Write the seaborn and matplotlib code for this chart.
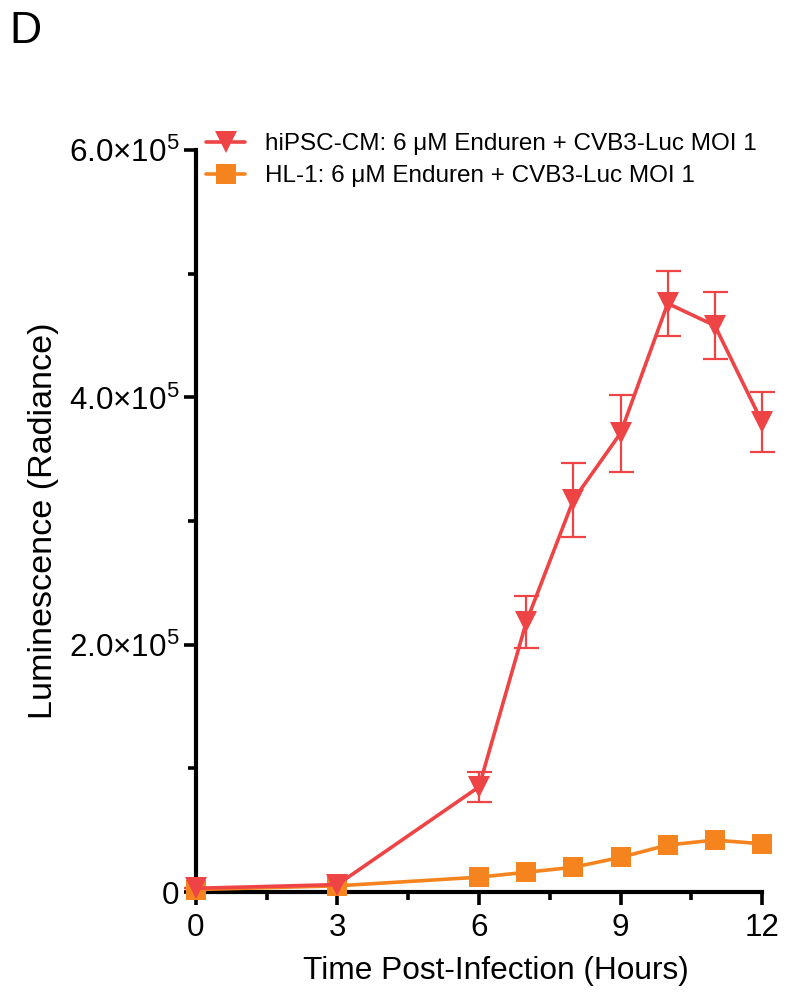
import matplotlib
matplotlib.use("Agg")
import matplotlib.pyplot as plt
import matplotlib.ticker as ticker
import seaborn as sns
import pandas as pd

# time points (hours)
hours = [0, 3, 6, 7, 8, 9, 10, 11, 12]
# hiPSC-CM luminescence and SEM
ipsc_mean = [3000, 6000, 85000, 218000, 317000, 371000, 476000, 458000, 380000]
ipsc_err = [0, 0, 12000, 21000, 30000, 31000, 26000, 27000, 24000]
# HL-1 luminescence
hl1_mean = [2000, 5000, 12000, 16000, 20000, 28000, 38000, 42000, 39000]

lab_ipsc = "hiPSC-CM: 6 μM Enduren + CVB3-Luc MOI 1"
lab_hl1 = "HL-1: 6 μM Enduren + CVB3-Luc MOI 1"
red = "#EE4446"
orange = "#F5841F"

sns.set_style("ticks")
plt.rcParams['font.family'] = ['Liberation Sans', 'DejaVu Sans']
plt.rcParams['mathtext.fontset'] = 'custom'
plt.rcParams['mathtext.rm'] = 'Liberation Sans'
plt.rcParams['mathtext.it'] = 'Liberation Sans'
for k in ['text.color', 'axes.labelcolor', 'xtick.color', 'ytick.color', 'axes.edgecolor']:
    plt.rcParams[k] = 'black'

df = pd.concat([
    pd.DataFrame({'Hours': hours, 'Lum': hl1_mean, 'Cell': lab_hl1}),
    pd.DataFrame({'Hours': hours, 'Lum': ipsc_mean, 'Cell': lab_ipsc}),
])

fig = plt.figure(figsize=(7.93, 9.94), dpi=100)
ax = fig.add_axes([0.247, 0.1026, 0.714, 0.7464])

sns.lineplot(data=df, x='Hours', y='Lum', hue='Cell', style='Cell',
             palette={lab_hl1: orange, lab_ipsc: red},
             markers={lab_hl1: 's', lab_ipsc: 'v'}, dashes=False,
             markersize=14, markeredgewidth=0, linewidth=2.6,
             ax=ax, legend=False, clip_on=False, zorder=3)
for ln in ax.lines:
    if ln.get_marker() == 'v':
        ln.set_markersize(16)
        ln.set_zorder(4)

ax.errorbar(hours, ipsc_mean, yerr=ipsc_err, fmt='none', ecolor=red,
            elinewidth=1.6, capsize=9, capthick=1.6, zorder=2, clip_on=False)

ax.set_xlim(0, 12)
ax.set_ylim(0, 6e5)
ax.xaxis.set_major_locator(ticker.MultipleLocator(3))
ax.xaxis.set_minor_locator(ticker.MultipleLocator(1.5))
ax.yaxis.set_major_locator(ticker.MultipleLocator(2e5))
ax.yaxis.set_minor_locator(ticker.MultipleLocator(1e5))


def sci_fmt(y, pos):
    if y == 0:
        return "0"
    return r"%.1f$\times$10$^{5}$" % (y / 1e5)


ax.yaxis.set_major_formatter(ticker.FuncFormatter(sci_fmt))
ax.tick_params(axis='both', which='major', length=9, width=2.6,
               labelsize=22.6, direction='out', color='black')
ax.tick_params(axis='both', which='minor', length=6, width=2.6,
               direction='out', color='black')
ax.tick_params(axis='x', pad=6)
ax.tick_params(axis='y', pad=3)
for s in ['left', 'bottom']:
    ax.spines[s].set_linewidth(3)
sns.despine(ax=ax)

ax.set_xlabel("Time Post-Infection (Hours)", fontsize=22.8)
ax.set_ylabel("Luminescence (Radiance)", fontsize=24.6)
ax.xaxis.set_label_coords(0.53, -0.086)
ax.yaxis.set_label_coords(-0.242, 0.5)

h1, = ax.plot([], [], color=red, marker='v', markersize=16, linewidth=2.6, markeredgewidth=0)
h2, = ax.plot([], [], color=orange, marker='s', markersize=14, linewidth=2.6, markeredgewidth=0)
ax.legend([h1, h2], [lab_ipsc, lab_hl1], loc='upper left',
          bbox_to_anchor=(-0.02, 1.052), frameon=False, fontsize=17.5,
          handlelength=1.6, handletextpad=0.8, labelspacing=0.4)

fig.text(0.012, 0.968, "D", fontsize=32, va='center')

fig.savefig("out.png", dpi=100)
